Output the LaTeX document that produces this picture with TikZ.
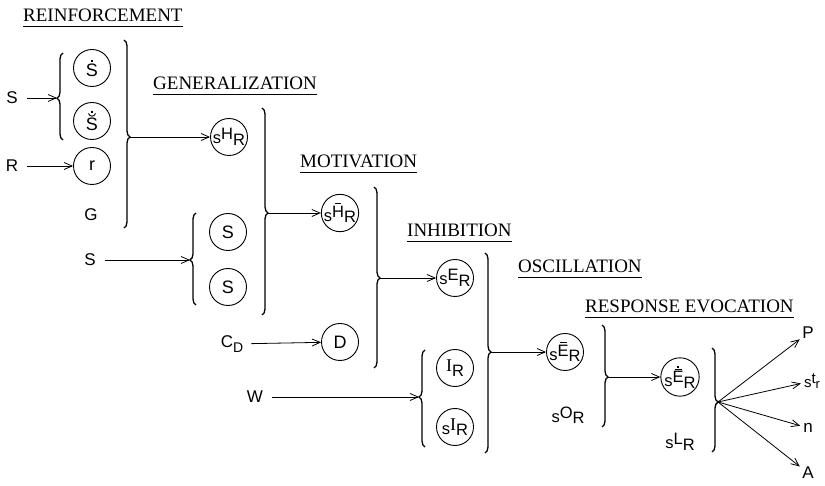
\documentclass[tikz,border=0pt]{standalone}
\usepackage{fontspec}
\setmainfont{Liberation Serif}
\newfontfamily\lsans{Liberation Sans}
\usetikzlibrary{decorations.pathreplacing,arrows.meta}
\newcommand{\hcmp}[2]{{\lsans s\raisebox{4pt}{#1}\raisebox{-1.5pt}{#2}}}
\newcommand{\stk}[3]{\vbox{\offinterlineskip\halign{\hfil##\hfil\cr#1\cr\noalign{\vskip#2}#3\cr}}}
\newcommand{\dt}{\rule{2pt}{2pt}}
\newcommand{\br}[1]{\rule{#1}{1pt}}
\tikzset{
  hd/.style={font=\fontsize{19}{19}\selectfont, inner sep=0pt, anchor=base west},
  uline/.style={line width=1.1pt},
  lab/.style={font=\lsans\fontsize{17}{17}\selectfont, inner sep=0pt},
  circ/.style={circle, draw, line width=0.9pt, minimum size=37pt, inner sep=0pt,
               font=\lsans\fontsize{18}{18}\selectfont},
  ccirc/.style={circ, font=\lsans\fontsize{16.5}{16.5}\selectfont},
  arr/.style={-{Straight Barb[length=8pt,width=7pt]}, line width=0.8pt},
  brc/.style={decorate, decoration={brace, amplitude=6pt, aspect=#1}, line width=1.3pt},
  accentline/.style={line width=0.9pt},
}
\begin{document}
\begin{tikzpicture}[x=1pt,y=-1pt]
\useasboundingbox (0,0) rectangle (825,486);

% headings
\node[hd] (h1) at (23,22) {REINFORCEMENT};
\node[hd] (h2) at (153,90) {GENERALIZATION};
\node[hd] (h3) at (300,168) {MOTIVATION};
\node[hd] (h4) at (407,237) {INHIBITION};
\node[hd] (h5) at (518,273) {OSCILLATION};
\node[hd] (h6) at (585,313) {RESPONSE EVOCATION};
\foreach \h in {h1,h2,h3,h4,h5,h6}
  \draw[uline] ([yshift=-4.5pt]\h.base west) -- ([yshift=-4.5pt]\h.base east);

% braces
\draw[brc=0.48]  (63,140) -- (63,53);    \coordinate (b1) at (57,98);
\draw[brc=0.516] (124,40) -- (124,228);  \coordinate (b2) at (130,137);
\draw[brc=0.507] (262,108) -- (262,315); \coordinate (b3) at (268,213);
\draw[brc=0.49]  (196,305) -- (196,213); \coordinate (b4) at (190,260);
\draw[brc=0.503] (374,187) -- (374,368); \coordinate (b5) at (380,278);
\draw[brc=0.495] (485,253) -- (485,453); \coordinate (b6) at (491,352);
\draw[brc=0.515] (425,447) -- (425,350); \coordinate (b7) at (419,397);
\draw[brc=0.51]  (602,325) -- (602,427); \coordinate (b8) at (608,377);
\draw[brc=0.52]  (712,348) -- (712,452); \coordinate (b9) at (718,402);

% column 1
\node[lab] (s1) at (12,98) {S};
\node[lab] (rr) at (12,166) {R};
\node[circ] (c1) at (92,68) {\stk{\dt}{2pt}{S}};
\node[circ] (c2) at (92,121) {\stk{\dt}{5pt}{S}};
\draw[accentline] ([xshift=-3.5pt,yshift=7.5pt]c2.center)
  .. controls ([xshift=-2.5pt,yshift=4pt]c2.center) and ([xshift=2.5pt,yshift=4pt]c2.center)
  .. ([xshift=3.5pt,yshift=7.5pt]c2.center);
\node[circ] (c3) at (92,166) {r};
\node[lab] (g) at (91,215) {G};

% column 2
\node[ccirc] (hsr) at (229,137) {\hcmp{H}{R}};
\node[lab] (s2) at (90,260) {S};
\node[circ] (sa) at (228,232) {S};
\node[circ] (sb) at (228,287) {S};

% column 3
\node[ccirc] (hbar) at (340,213) {\hcmp{\stk{\br{6pt}}{1.5pt}{H}}{R}};
\node[lab] (cd) at (232,344) {C\raisebox{-4.5pt}{\fontsize{14}{14}\selectfont D}};
\node[circ] (dd) at (340,342) {D};

% column 4
\node[ccirc] (ser) at (455,278) {\hcmp{E}{R}};
\node[lab] (w) at (255,397) {W};
\node[ccirc] (ir) at (455,368) {{\rmfamily\fontsize{18}{18}\selectfont I}\raisebox{-4.5pt}{R}};
\node[ccirc] (sir) at (455,427) {\hcmp{\rmfamily\fontsize{18}{18}\selectfont I}{R}};

% column 5
\node[ccirc] (sebar) at (565,352) {\hcmp{\stk{\br{7pt}}{1.5pt}{E}}{R}};
\node[lab, font=\lsans\fontsize{16.5}{16.5}\selectfont] (sor) at (568,415) {\hcmp{O}{R}};

% column 6
\node[ccirc] (sedot) at (680,377) {\hcmp{\stk{\dt}{1pt}{\stk{\br{7pt}}{1.5pt}{E}}}{R}};
\node[lab, font=\lsans\fontsize{16.5}{16.5}\selectfont] (slr) at (680,442) {\hcmp{L}{R}};

% outputs
\node[lab] (p) at (808,333) {P};
\node[lab] (str) at (812,381) {{\fontsize{15}{15}\selectfont s\raisebox{3.5pt}{t}\raisebox{-1pt}{\fontsize{13}{13}\selectfont r}}};
\node[lab] (n) at (808,428) {n};
\node[lab] (a) at (808,473) {A};

% connectors
\draw[arr, shorten <=9pt] (s1) -- (b1);
\draw[arr, shorten <=9pt] (rr) -- (c3);
\draw[arr] (b2) -- (hsr);
\draw[arr, shorten <=9pt] (s2) -- (b4);
\draw[arr] (b3) -- (hbar);
\draw[arr, shorten <=8pt] (cd) -- (dd);
\draw[arr] (b5) -- (ser);
\draw[arr, shorten <=9pt] (w) -- (b7);
\draw[arr] (b6) -- (sebar);
\draw[arr] (b8) -- (sedot);
\draw[arr, shorten >=3pt] (b9) -- (p);
\draw[arr, shorten >=3pt] (b9) -- (str);
\draw[arr, shorten >=3pt] (b9) -- (n);
\draw[arr, shorten >=3pt] (b9) -- (a);
\end{tikzpicture}
\end{document}
